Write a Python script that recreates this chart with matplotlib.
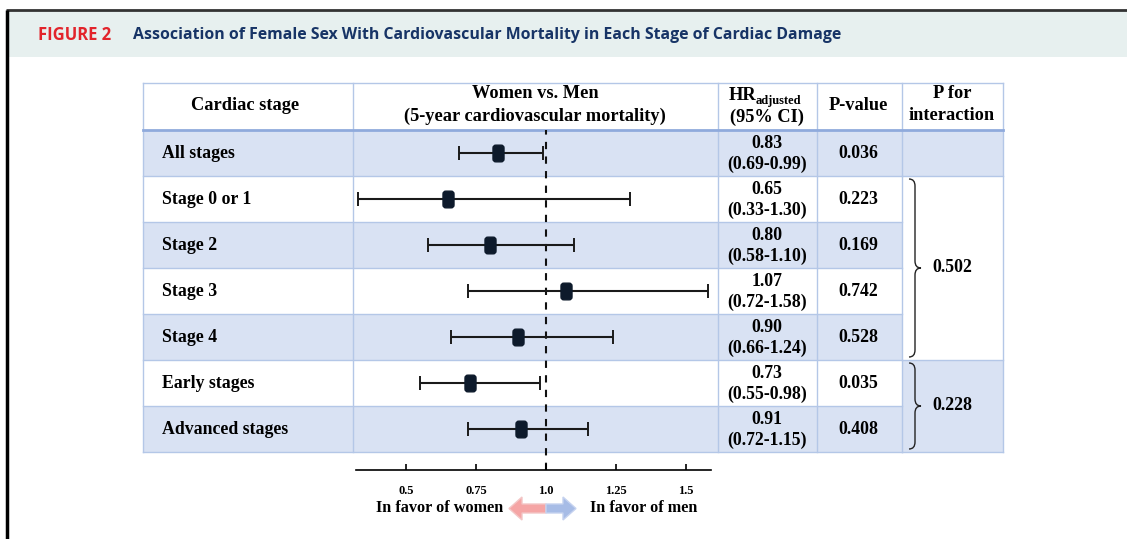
import numpy as np
import matplotlib.pyplot as plt
from matplotlib.patches import Rectangle, Polygon, PathPatch
from matplotlib.path import Path

# data
stages = ['All stages', 'Stage 0 or 1', 'Stage 2', 'Stage 3', 'Stage 4',
          'Early stages', 'Advanced stages']
hr = np.array([0.83, 0.65, 0.80, 1.07, 0.90, 0.73, 0.91])
ci_low = np.array([0.69, 0.33, 0.58, 0.72, 0.66, 0.55, 0.72])
ci_high = np.array([0.99, 1.30, 1.10, 1.58, 1.24, 0.98, 1.15])
p_values = ['0.036', '0.223', '0.169', '0.742', '0.528', '0.035', '0.408']
p_int_values = ['0.502', '0.228']
p_int_first = [1, 5]
p_int_last = [4, 6]
x_ticks = [0.5, 0.75, 1.0, 1.25, 1.5]
x_tick_labels = ['0.5', '0.75', '1.0', '1.25', '1.5']

W, H = 1127, 539
SERIF = 'Liberation Serif'
ROW_BLUE = '#d9e2f3'
GRID = '#b4c7e7'

# table layout in pixels
cols = [143, 353, 718, 817, 902, 1003]
y_top = 83
row0 = 130
row_h = 46
n = len(stages)

fig = plt.figure(figsize=(W / 100, H / 100), dpi=100)

# background axes in pixel units
bg = fig.add_axes([0, 0, 1, 1])
bg.set_xlim(0, W)
bg.set_ylim(H, 0)
bg.axis('off')

# header band + frame
bg.add_patch(Rectangle((6, 11), W - 6, 46, facecolor='#e7f0ef', edgecolor='none'))
bg.plot([6, W], [10, 10], color='#333333', lw=2, solid_capstyle='butt')
bg.plot([6.5, 6.5], [10, H], color='black', lw=2.5, solid_capstyle='butt')
bg.text(38, 35, 'FIGURE 2', color='#e2242b', fontsize=12, fontweight='bold',
        family='Open Sans', va='center', ha='left')
bg.text(133, 35, 'Association of Female Sex With Cardiovascular Mortality in Each Stage of Cardiac Damage',
        color='#173466', fontsize=11.4, fontweight='bold', family='Open Sans', va='center', ha='left')

# row fills
for i in range(n):
    y = row0 + i * row_h
    if i % 2 == 0:
        bg.add_patch(Rectangle((cols[0], y), cols[4] - cols[0], row_h,
                               facecolor=ROW_BLUE, edgecolor='none'))
# P for interaction column fills
bg.add_patch(Rectangle((cols[4], row0), cols[5] - cols[4], row_h, facecolor=ROW_BLUE, edgecolor='none'))
bg.add_patch(Rectangle((cols[4], row0 + 5 * row_h), cols[5] - cols[4], 2 * row_h,
                       facecolor=ROW_BLUE, edgecolor='none'))

# grid lines
y_bot = row0 + n * row_h
for x in cols:
    bg.plot([x, x], [y_top, y_bot], color=GRID, lw=1)
bg.plot([cols[0], cols[5]], [y_top, y_top], color=GRID, lw=1)
for i in range(1, n + 1):
    y = row0 + i * row_h
    bg.plot([cols[0], cols[4]], [y, y], color=GRID, lw=1)
for y in [row0 + row_h, row0 + 5 * row_h, y_bot]:
    bg.plot([cols[4], cols[5]], [y, y], color=GRID, lw=1)
bg.plot([cols[0], cols[5]], [row0, row0], color='#8faadc', lw=2)

# header text
tkw = dict(family=SERIF, fontweight='bold', color='black', fontsize=13.2)
bg.text(245, 106, 'Cardiac stage', ha='center', va='center', **tkw)
bg.text(535, 94, 'Women vs. Men', ha='center', va='center', **tkw)
bg.text(535, 116, '(5-year cardiovascular mortality)', ha='center', va='center', **tkw)
bg.text(756, 100, 'HR', ha='right', va='baseline', **tkw)
bg.text(756, 104, 'adjusted', ha='left', va='baseline', family=SERIF,
        fontweight='bold', fontsize=9)
bg.text(767, 117, '(95% CI)', ha='center', va='center', **tkw)
bg.text(858, 106, 'P-value', ha='center', va='center', **tkw)
bg.text(952, 94, 'P for', ha='center', va='center', **tkw)
bg.text(952, 116, 'interaction', ha='center', va='center', **tkw)

# row text
nkw = dict(family=SERIF, fontweight='bold', color='black', fontsize=12.8)
for i in range(n):
    yc = row0 + i * row_h + row_h / 2
    bg.text(162, yc, stages[i], ha='left', va='center', **nkw)
    bg.text(767, yc - 10, f'{hr[i]:.2f}', ha='center', va='center', **nkw)
    bg.text(767, yc + 11, f'({ci_low[i]:.2f}-{ci_high[i]:.2f})', ha='center', va='center', **nkw)
    bg.text(858, yc, p_values[i], ha='center', va='center', **nkw)


def brace(ytop, ybot, x0=909, x1=915, x2=921, r=7):
    ym = (ytop + ybot) / 2
    verts = [(x0, ytop), (x1, ytop), (x1, ytop + r),
             (x1, ym - r), (x1, ym), (x2, ym),
             (x1, ym), (x1, ym + r),
             (x1, ybot - r), (x1, ybot), (x0, ybot)]
    codes = [Path.MOVETO, Path.CURVE3, Path.CURVE3,
             Path.LINETO, Path.CURVE3, Path.CURVE3,
             Path.CURVE3, Path.CURVE3,
             Path.LINETO, Path.CURVE3, Path.CURVE3]
    bg.add_patch(PathPatch(Path(verts, codes), facecolor='none', edgecolor='#222222', lw=1))
    return ym


for val, a, b in zip(p_int_values, p_int_first, p_int_last):
    ym = brace(row0 + a * row_h + 3, row0 + (b + 1) * row_h - 3)
    bg.text(932, ym, val, ha='left', va='center', **nkw)

# favour arrows
left = Polygon([(546, 504), (522, 504), (522, 497), (509, 508.5), (522, 520), (522, 513), (546, 513)],
               closed=True, facecolor='#f5a5a5', edgecolor='#f3c6c6', lw=1)
right = Polygon([(546, 504), (563, 504), (563, 497), (576, 508.5), (563, 520), (563, 513), (546, 513)],
                closed=True, facecolor='#a7bce6', edgecolor='#c5d2ef', lw=1)
bg.add_patch(left)
bg.add_patch(right)
bg.text(503, 508, 'In favor of women', ha='right', va='center', family=SERIF,
        fontweight='bold', fontsize=11.7)
bg.text(590, 508, 'In favor of men', ha='left', va='center', family=SERIF,
        fontweight='bold', fontsize=11.7)

# forest plot axes, 280 px per HR unit, 1.0 at x=546
ax = fig.add_axes([353 / W, (H - 470) / H, 365 / W, 340 / H])
ax.patch.set_alpha(0)
ax.set_xlim(1 - 193 / 280, 1 + 172 / 280)
ax.set_ylim(-0.5 + 340 / row_h, -0.5)
rows = np.arange(n)

ax.axvline(1.0, color='#111111', lw=1.5, linestyle=(0, (3.5, 3.5)), zorder=1)
ax.errorbar(hr, rows, xerr=[hr - ci_low, ci_high - hr], fmt='none', ecolor='#1a1a1a',
            elinewidth=1.5, capsize=5, capthick=1.4, zorder=2)

# rounded box marker
w, h, r = 0.33, 0.5, 0.17
box = Path([(-w + r, -h), (w - r, -h), (w, -h), (w, -h + r), (w, h - r), (w, h), (w - r, h),
            (-w + r, h), (-w, h), (-w, h - r), (-w, -h + r), (-w, -h), (-w + r, -h), (-w + r, -h)],
           [Path.MOVETO, Path.LINETO, Path.CURVE3, Path.CURVE3, Path.LINETO, Path.CURVE3, Path.CURVE3,
            Path.LINETO, Path.CURVE3, Path.CURVE3, Path.LINETO, Path.CURVE3, Path.CURVE3, Path.CLOSEPOLY])
ax.plot(hr, rows, linestyle='none', marker=box, markersize=12, color='#0d1a2b', zorder=3)

for s in ['top', 'left', 'right']:
    ax.spines[s].set_visible(False)
ax.spines['bottom'].set_bounds(0.32, 1.59)
ax.spines['bottom'].set_linewidth(1.2)
ax.set_yticks([])
ax.set_xticks(x_ticks)
ax.set_xticklabels(x_tick_labels, family=SERIF, fontweight='bold', fontsize=9)
ax.tick_params(axis='x', direction='in', length=4, width=1.2, pad=11)

fig.savefig('out.png', dpi=100)
